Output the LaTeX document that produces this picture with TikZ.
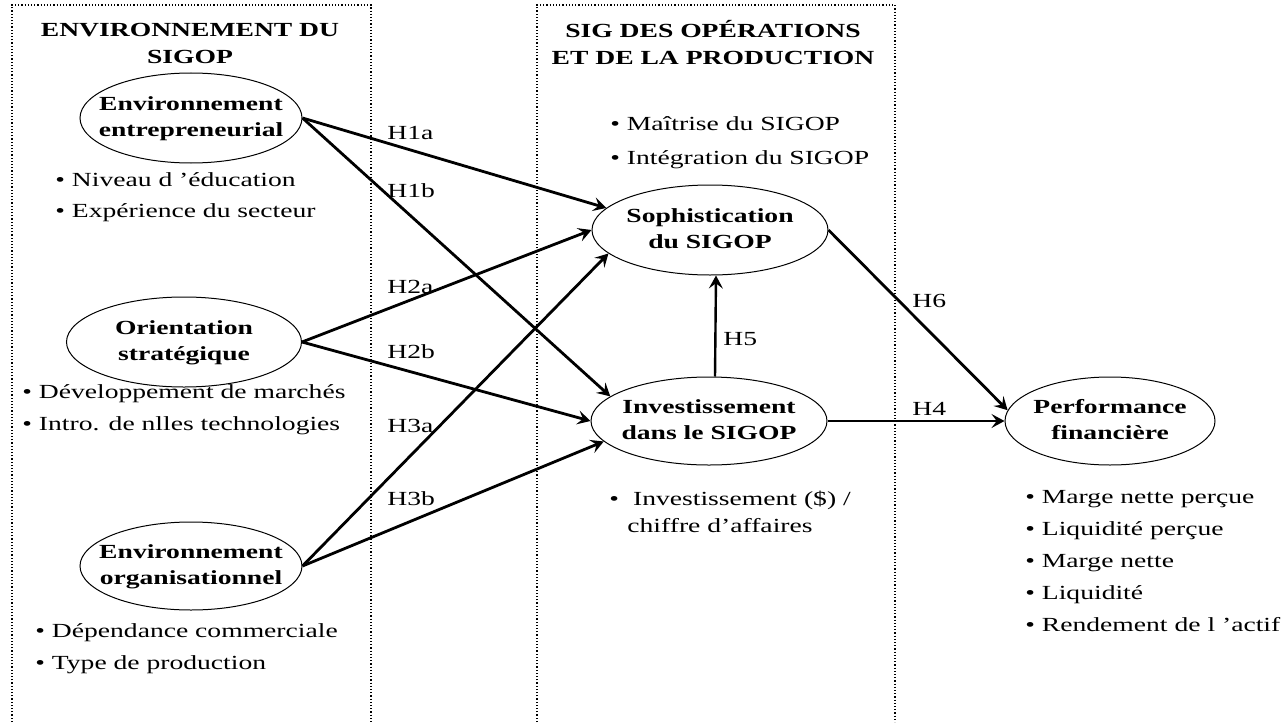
\documentclass[tikz,border=0pt]{standalone}
\usepackage{fontspec}
\setmainfont[FakeStretch=1.38]{Liberation Serif}
\usepackage{tikz}
\usetikzlibrary{shapes.geometric, arrows.meta}
\newcommand{\twolines}[2]{\makebox[0pt]{\begin{tabular}{@{}c@{}}#1\\#2\end{tabular}}}

\begin{document}
\begin{tikzpicture}[x=0.5pt, y=-0.5pt,
  every node/.style={inner sep=0pt, font=\fontsize{10}{13.5}\selectfont},
  construct/.style={ellipse, draw, line width=0.5pt, font=\fontsize{10}{13}\selectfont\bfseries},
  paneltitle/.style={align=center, font=\fontsize{10}{13.5}\selectfont\bfseries},
  item/.style={anchor=base west},
  lab/.style={anchor=base west},
  hyp/.style={-{Stealth[length=6.5pt, width=7pt, inset=2.6pt]}, line width=1.4pt},
  panel/.style={densely dotted, line width=0.6pt}]
  \useasboundingbox (0,0) rectangle (1283,722);
  % panels
  \draw[panel] (12,722) -- (12,5) -- (371,5) -- (371,722);
  \draw[panel] (537,722) -- (537,5) -- (895,5) -- (895,722);
  \node[paneltitle] (tleft) at (190,43) {ENVIRONNEMENT DU\\SIGOP};
  \node[paneltitle] (tmid) at (713,43) {SIG DES OPÉRATIONS\\ET DE LA PRODUCTION};
  % constructs
  \node[construct, minimum width=111pt, minimum height=45pt] (envent) at (191,118) {\twolines{Environnement}{entrepreneurial}};
  \node[construct, minimum width=117.5pt, minimum height=45pt] (orient) at (184,342) {\twolines{Orientation}{stratégique}};
  \node[construct, minimum width=111pt, minimum height=44pt] (envorg) at (191,566) {\twolines{Environnement}{organisationnel}};
  \node[construct, minimum width=118pt, minimum height=45pt] (soph) at (710,230) {\twolines{Sophistication}{du SIGOP}};
  \node[construct, minimum width=118pt, minimum height=44pt] (invest) at (709,421) {\twolines{Investissement}{dans le SIGOP}};
  \node[construct, minimum width=105pt, minimum height=44pt] (perf) at (1110,421) {\twolines{Performance}{financière}};
  % indicators
  \foreach \txt [count=\k] in {Niveau d 'éducation, Expérience du secteur}
    \node[item] (ent\k) at (55,{186+31*(\k-1)}) {\textbullet\ \txt};
  \foreach \txt [count=\k] in {Développement de marchés, Intro. de nlles technologies}
    \node[item] (ori\k) at (22,{398+32*(\k-1)}) {\textbullet\ \txt};
  \foreach \txt [count=\k] in {Dépendance commerciale, Type de production}
    \node[item] (org\k) at (35,{637+32*(\k-1)}) {\textbullet\ \txt};
  \foreach \txt [count=\k] in {Maîtrise du SIGOP, Intégration du SIGOP}
    \node[item] (sop\k) at (610,{130+34*(\k-1)}) {\textbullet\ \txt};
  \node[item] (inv1) at (609,505) {\textbullet\hspace{7pt}Investissement (\$) /};
  \node[item] (inv2) at (627,532) {chiffre d’affaires};
  \foreach \txt [count=\k] in {Marge nette perçue, Liquidité perçue, Marge nette, Liquidité, Rendement de l 'actif}
    \node[item] (per\k) at (1025,{503+32*(\k-1)}) {\textbullet\ \txt};
  % hypotheses
  \draw[hyp] (envent.east) -- (soph.168);
  \draw[hyp] (envent.east) -- (invest.166);
  \draw[hyp] (orient.east) -- (soph.west);
  \draw[hyp] (orient.east) -- (invest.west);
  \draw[hyp] (envorg.east) -- (soph.193);
  \draw[hyp] (envorg.east) -- (invest.191);
  \draw[hyp, line width=1.2pt] ([xshift=3pt]invest.north) -- ([xshift=3pt]soph.south);
  \draw[hyp, line width=0.8pt] (invest.east) -- (perf.west);
  \draw[hyp] (soph.east) -- (perf.174);
  \node[lab] (h1a) at (387,140) {H1a};
  \node[lab] (h1b) at (387,197) {H1b};
  \node[lab] (h2a) at (387,293) {H2a};
  \node[lab] (h2b) at (387,358) {H2b};
  \node[lab] (h3a) at (387,432) {H3a};
  \node[lab] (h3b) at (387,505) {H3b};
  \node[lab] (h5) at (723,345) {H5};
  \node[lab] (h6) at (912,307) {H6};
  \node[lab] (h4) at (912,415) {H4};
\end{tikzpicture}
\end{document}
